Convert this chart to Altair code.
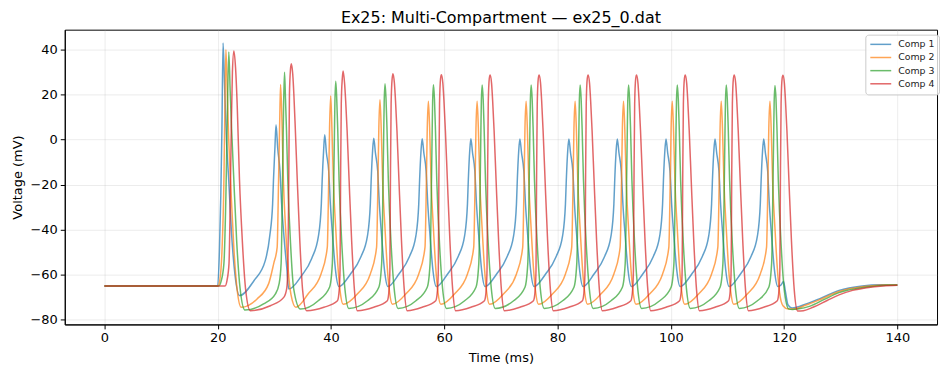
import altair as alt
import pandas as pd

# ---- data (time in ms, voltage in mV) ----
chart_title = "Ex25: Multi-Compartment — ex25_0.dat"
comp_names = ["Comp 1", "Comp 2", "Comp 3", "Comp 4"]
comp_colors = ["#1f77b4", "#ff7f0e", "#2ca02c", "#d62728"]

x_ticks = [0, 20, 40, 60, 80, 100, 120, 140]
y_ticks = [-80, -60, -40, -20, 0, 20, 40]

blue_t = [
    0, 20.0, 20.3, 20.55, 20.75, 20.95, 21.2, 21.55, 21.95, 22.45, 23.05, 23.85, 26.4, 28.4,
    29.2, 29.7, 29.85, 30.1, 30.3, 30.6, 31.0, 31.3, 31.7, 32.2, 32.55,
    34.8, 36.6, 37.8, 38.3, 38.45, 38.7, 38.9, 39.2, 39.6, 39.9, 40.3, 40.8, 41.4,
    43.45, 45.25, 46.45, 46.95, 47.1, 47.35, 47.55, 47.85, 48.25, 48.55, 48.95, 49.45, 50.05,
    52.0, 53.8, 55.0, 55.5, 55.65, 55.9, 56.1, 56.4, 56.8, 57.1, 57.5, 58.0, 58.6,
    60.6, 62.4, 63.6, 64.1, 64.25, 64.5, 64.7, 65.0, 65.4, 65.7, 66.1, 66.6, 67.2,
    69.25, 71.05, 72.25, 72.75, 72.9, 73.15, 73.35, 73.65, 74.05, 74.35, 74.75, 75.25, 75.85,
    77.9, 79.7, 80.9, 81.4, 81.55, 81.8, 82.0, 82.3, 82.7, 83.0, 83.4, 83.9, 84.5,
    86.45, 88.25, 89.45, 89.95, 90.1, 90.35, 90.55, 90.85, 91.25, 91.55, 91.95, 92.45, 93.05,
    95.05, 96.85, 98.05, 98.55, 98.7, 98.95, 99.15, 99.45, 99.85, 100.15, 100.55, 101.05, 101.65,
    103.7, 105.5, 106.7, 107.2, 107.35, 107.6, 107.8, 108.1, 108.5, 108.8, 109.2, 109.7, 110.3,
    112.3, 114.1, 115.3, 115.8, 115.95, 116.2, 116.4, 116.7, 117.1, 117.4, 117.8, 118.3, 118.9,
    119.5, 119.9, 120.2, 120.7, 121.4, 123.9, 126.6, 129.7, 133.8, 137.0, 140.0,
]
blue_v = [
    -65, -65, -50, -25, 5, 42.8, 25, 0, -18, -42, -60, -69.3, -62.7, -53.8,
    -42.7, -28.6, -18, -4, 6.5, -4, -14, -29, -43, -57, -66.4,
    -60.5, -52.8, -42.7, -28.6, -18, -5, 2.1, -6, -14, -29, -43, -58, -65.3,
    -59.7, -52.3, -42.7, -28.6, -18, -5, 0.6, -6, -14, -29, -43, -58, -65.3,
    -59.7, -52.3, -42.7, -28.6, -18, -5, 0.3, -6, -14, -29, -43, -58, -65.3,
    -59.7, -52.3, -42.7, -28.6, -18, -5, 0.3, -6, -14, -29, -43, -58, -65.3,
    -59.7, -52.3, -42.7, -28.6, -18, -5, 0.2, -6, -14, -29, -43, -58, -65.3,
    -59.7, -52.3, -42.7, -28.6, -18, -5, 0.2, -6, -14, -29, -43, -58, -65.3,
    -59.7, -52.3, -42.7, -28.6, -18, -5, 0.2, -6, -14, -29, -43, -58, -65.3,
    -59.7, -52.3, -42.7, -28.6, -18, -5, 0.2, -6, -14, -29, -43, -58, -65.3,
    -59.7, -52.3, -42.7, -28.6, -18, -5, 0.2, -6, -14, -29, -43, -58, -65.3,
    -59.7, -52.3, -42.7, -28.6, -18, -5, 0.2, -6, -14, -29, -43, -58, -65.3,
    -64.5, -63, -67, -73.5, -74.8, -73, -70.3, -67, -65, -64.5, -64.6,
]

orange_t = [
    0, 20.05, 20.4, 20.75, 21.1, 21.25, 21.45, 21.7, 21.95, 22.25, 22.85, 23.45, 24.15, 26.95, 29.0, 29.9,
    30.5, 30.75, 30.95, 31.1, 31.35, 31.6, 32.0, 32.45, 32.95, 33.8,
    35.95, 38.25, 39.35, 39.6, 39.75, 39.95, 40.17, 40.42, 40.85, 41.25, 41.65, 42.15,
    44.65, 46.95, 48.05, 48.3, 48.45, 48.65, 48.87, 49.12, 49.55, 49.95, 50.35, 50.85,
    53.2, 55.5, 56.6, 56.85, 57.0, 57.2, 57.42, 57.67, 58.1, 58.5, 58.9, 59.4,
    61.8, 64.1, 65.2, 65.45, 65.6, 65.8, 66.02, 66.27, 66.7, 67.1, 67.5, 68.0,
    70.45, 72.75, 73.85, 74.1, 74.25, 74.45, 74.67, 74.92, 75.35, 75.75, 76.15, 76.65,
    79.1, 81.4, 82.5, 82.75, 82.9, 83.1, 83.32, 83.57, 84.0, 84.4, 84.8, 85.3,
    87.65, 89.95, 91.05, 91.3, 91.45, 91.65, 91.87, 92.12, 92.55, 92.95, 93.35, 93.85,
    96.25, 98.55, 99.65, 99.9, 100.05, 100.25, 100.47, 100.72, 101.15, 101.55, 101.95, 102.45,
    104.9, 107.2, 108.3, 108.55, 108.7, 108.9, 109.12, 109.37, 109.8, 110.2, 110.6, 111.1,
    113.5, 115.8, 116.9, 117.15, 117.3, 117.5, 117.72, 117.97, 118.4, 118.8, 119.2,
    119.8, 120.75, 121.6, 123.9, 126.6, 129.7, 134.1, 137.5, 140.0,
]
orange_v = [
    -65, -65, -62, -50, -18, 10, 39.9, 20, 0, -18, -48, -67, -74.5, -70.8, -64, -55,
    -47.9, -18, 8, 24.4, 8, -18, -40, -58, -69, -74.5,
    -68.6, -59.7, -47.9, -18, 5, 19.3, 5, -18, -40, -57, -68, -73.2,
    -68.6, -59.7, -47.9, -18, 5, 17.6, 5, -18, -40, -57, -68, -73.2,
    -68.6, -59.7, -47.9, -18, 5, 17.0, 5, -18, -40, -57, -68, -73.2,
    -68.6, -59.7, -47.9, -18, 5, 17.0, 5, -18, -40, -57, -68, -73.2,
    -68.6, -59.7, -47.9, -18, 5, 17.0, 5, -18, -40, -57, -68, -73.2,
    -68.6, -59.7, -47.9, -18, 5, 17.0, 5, -18, -40, -57, -68, -73.2,
    -68.6, -59.7, -47.9, -18, 5, 17.0, 5, -18, -40, -57, -68, -73.2,
    -68.6, -59.7, -47.9, -18, 5, 17.0, 5, -18, -40, -57, -68, -73.2,
    -68.6, -59.7, -47.9, -18, 5, 17.0, 5, -18, -40, -57, -68, -73.2,
    -68.6, -59.7, -47.9, -18, 5, 17.0, 5, -18, -40, -57, -68,
    -73.8, -75.3, -75.3, -73.5, -70.8, -67.5, -65.3, -64.6, -64.6,
]

green_t = [
    0, 20.2, 20.6, 21.1, 21.45, 21.7, 21.96, 22.2, 22.45, 22.85, 23.35, 23.95, 24.8, 28.1, 30.2, 30.85,
    31.2, 31.45, 31.57, 31.65, 31.8, 31.97, 32.15, 32.38, 32.9, 33.4, 34.6,
    37.75, 39.75, 40.25, 40.5, 40.62, 40.7, 40.85, 41.02, 41.2, 41.43, 41.95, 42.45, 43.15,
    46.45, 48.45, 48.95, 49.2, 49.32, 49.4, 49.55, 49.72, 49.9, 50.13, 50.65, 51.15, 51.85,
    55.0, 57.0, 57.5, 57.75, 57.87, 57.95, 58.1, 58.27, 58.45, 58.68, 59.2, 59.7, 60.4,
    63.6, 65.6, 66.1, 66.35, 66.47, 66.55, 66.7, 66.87, 67.05, 67.28, 67.8, 68.3, 69.0,
    72.25, 74.25, 74.75, 75.0, 75.12, 75.2, 75.35, 75.52, 75.7, 75.93, 76.45, 76.95, 77.65,
    80.9, 82.9, 83.4, 83.65, 83.77, 83.85, 84.0, 84.17, 84.35, 84.58, 85.1, 85.6, 86.3,
    89.45, 91.45, 91.95, 92.2, 92.32, 92.4, 92.55, 92.72, 92.9, 93.13, 93.65, 94.15, 94.85,
    98.05, 100.05, 100.55, 100.8, 100.92, 101.0, 101.15, 101.32, 101.5, 101.73, 102.25, 102.75, 103.45,
    106.7, 108.7, 109.2, 109.45, 109.57, 109.65, 109.8, 109.97, 110.15, 110.38, 110.9, 111.4, 112.1,
    115.3, 117.3, 117.8, 118.05, 118.17, 118.25, 118.4, 118.57, 118.75, 118.98, 119.5, 120.0,
    120.8, 121.5, 122.4, 124.6, 127.1, 129.7, 134.6, 138.0, 140.0,
]
green_v = [
    -65, -65, -63, -55, -25, 10, 38.8, 22, 5, -18, -45, -66, -75.7, -73, -68.5, -64,
    -55, -18, 4, 17, 29.9, 18, 4, -18, -48, -66, -75.3,
    -71.6, -65.6, -55, -18, 4, 17, 25.9, 18, 4, -18, -48, -66, -75,
    -71.6, -65.6, -55, -18, 4, 17, 24.7, 18, 4, -18, -48, -66, -75,
    -71.6, -65.6, -55, -18, 4, 17, 24.3, 18, 4, -18, -48, -66, -75,
    -71.6, -65.6, -55, -18, 4, 17, 24.2, 18, 4, -18, -48, -66, -75,
    -71.6, -65.6, -55, -18, 4, 17, 24.2, 18, 4, -18, -48, -66, -75,
    -71.6, -65.6, -55, -18, 4, 17, 24.2, 18, 4, -18, -48, -66, -75,
    -71.6, -65.6, -55, -18, 4, 17, 24.2, 18, 4, -18, -48, -66, -75,
    -71.6, -65.6, -55, -18, 4, 17, 24.2, 18, 4, -18, -48, -66, -75,
    -71.6, -65.6, -55, -18, 4, 17, 24.2, 18, 4, -18, -48, -66, -75,
    -71.6, -65.6, -55, -18, 4, 17, 24.0, 18, 4, -18, -48, -66,
    -75.2, -75.5, -75.3, -74, -71, -68, -65.5, -64.7, -64.6,
]

red_t = [
    0, 21.3, 21.65, 22.0, 22.2, 22.4, 22.6, 22.86, 23.15, 23.45, 23.85, 24.35, 24.95, 25.75, 29.3, 31.7, 32.2, 32.4,
    32.55, 32.67, 32.85, 33.0, 33.25, 33.45, 33.7, 34.05, 34.5, 35.0, 35.7,
    38.75, 41.15, 41.45, 41.6, 41.7, 41.82, 42.0, 42.15, 42.4, 42.6, 42.85, 43.2, 43.65, 44.15, 44.65,
    47.55, 49.95, 50.25, 50.4, 50.5, 50.62, 50.8, 50.95, 51.2, 51.4, 51.65, 52.0, 52.45, 52.95, 53.45,
    56.1, 58.5, 58.8, 58.95, 59.05, 59.17, 59.35, 59.5, 59.75, 59.95, 60.2, 60.55, 61.0, 61.5, 62.0,
    64.7, 67.1, 67.4, 67.55, 67.65, 67.77, 67.95, 68.1, 68.35, 68.55, 68.8, 69.15, 69.6, 70.1, 70.6,
    73.35, 75.75, 76.05, 76.2, 76.3, 76.42, 76.6, 76.75, 77.0, 77.2, 77.45, 77.8, 78.25, 78.75, 79.25,
    82.0, 84.4, 84.7, 84.85, 84.95, 85.07, 85.25, 85.4, 85.65, 85.85, 86.1, 86.45, 86.9, 87.4, 87.9,
    90.55, 92.95, 93.25, 93.4, 93.5, 93.62, 93.8, 93.95, 94.2, 94.4, 94.65, 95.0, 95.45, 95.95, 96.45,
    99.15, 101.55, 101.85, 102.0, 102.1, 102.22, 102.4, 102.55, 102.8, 103.0, 103.25, 103.6, 104.05, 104.55, 105.05,
    107.8, 110.2, 110.5, 110.65, 110.75, 110.87, 111.05, 111.2, 111.45, 111.65, 111.9, 112.25, 112.7, 113.2, 113.7,
    116.4, 118.8, 119.1, 119.25, 119.35, 119.47, 119.65, 119.8, 120.05, 120.25, 120.5, 120.85, 121.3, 121.8, 122.4,
    123.4, 125.1, 127.6, 129.7, 132.1, 134.6, 137.5, 140.0,
]
red_v = [
    -65, -65, -62.5, -55, -30, 5, 30, 39.3, 32, 15, -18, -45, -67, -76, -73.8, -70, -66, -56,
    -18, 20, 31, 33.6, 29, 20, 5, -18, -45, -67, -76,
    -74.5, -71.6, -67, -58, -18, 16, 27, 30.4, 25, 17, 4, -18, -45, -67, -76,
    -74.5, -71.6, -67, -58, -18, 16, 27, 29.2, 25, 17, 4, -18, -45, -67, -76,
    -74.5, -71.6, -67, -58, -18, 16, 27, 28.7, 25, 17, 4, -18, -45, -67, -76,
    -74.5, -71.6, -67, -58, -18, 16, 27, 28.6, 25, 17, 4, -18, -45, -67, -76,
    -74.5, -71.6, -67, -58, -18, 16, 27, 28.6, 25, 17, 4, -18, -45, -67, -76,
    -74.5, -71.6, -67, -58, -18, 16, 27, 28.6, 25, 17, 4, -18, -45, -67, -76,
    -74.5, -71.6, -67, -58, -18, 16, 27, 28.6, 25, 17, 4, -18, -45, -67, -76,
    -74.5, -71.6, -67, -58, -18, 16, 27, 28.6, 25, 17, 4, -18, -45, -67, -76,
    -74.5, -71.6, -67, -58, -18, 16, 27, 28.6, 25, 17, 4, -18, -45, -67, -76,
    -74.5, -71.6, -67, -58, -18, 16, 27, 28.5, 25, 17, 4, -18, -45, -67, -76.2,
    -76, -74.5, -71.5, -69, -67, -65.8, -65, -64.7,
]

# ---- build the long table ----
series = [(comp_names[0], blue_t, blue_v), (comp_names[1], orange_t, orange_v),
          (comp_names[2], green_t, green_v), (comp_names[3], red_t, red_v)]
rows = []
for name, ts, vs in series:
    assert len(ts) == len(vs), (name, len(ts), len(vs))
    for t, v in zip(ts, vs):
        rows.append({"t": t, "v": v, "comp": name})
df = pd.DataFrame(rows)

FONT = "DejaVu Sans"
PLOT_W, PLOT_H = 876, 296

lines = alt.Chart(df).mark_line(
    strokeWidth=1.5, strokeOpacity=0.7, interpolate="monotone"
).encode(
    x=alt.X("t:Q",
            scale=alt.Scale(domain=[-7, 147], nice=False, zero=False),
            axis=alt.Axis(values=x_ticks, title="Time (ms)", format="d", titlePadding=7)),
    y=alt.Y("v:Q",
            scale=alt.Scale(domain=[-82.1, 48.75], nice=False, zero=False),
            axis=alt.Axis(values=y_ticks, title="Voltage (mV)", format="d", titlePadding=6)),
    color=alt.Color("comp:N",
                    scale=alt.Scale(domain=comp_names, range=comp_colors),
                    legend=alt.Legend(title=None, orient="none", legendX=804, legendY=5,
                                      symbolType="stroke", symbolSize=441,
                                      symbolStrokeWidth=1.5, symbolOpacity=0.7,
                                      labelFontSize=9.4, labelFont=FONT, labelColor="#222222",
                                      labelOffset=6, clipHeight=11.5, rowPadding=1.2, padding=4,
                                      fillColor="rgba(255,255,255,0.8)", strokeColor="#cccccc",
                                      cornerRadius=3)),
    order=alt.Order("t:Q"),
)

title_df = pd.DataFrame({"label": [chart_title]})
title = alt.Chart(title_df).mark_text(
    font=FONT, fontSize=16, color="black", align="center", baseline="alphabetic"
).encode(
    text="label:N",
    x=alt.value(PLOT_W / 2),
    y=alt.value(-7),
)

chart = alt.layer(lines, title).properties(
    width=PLOT_W, height=PLOT_H,
    padding={"left": 57, "top": 21, "right": 5, "bottom": 40},
    autosize=alt.AutoSizeParams(type="none"),
).configure_view(
    stroke="black", strokeWidth=1
).configure_axis(
    labelFont=FONT, labelFontSize=13, labelColor="black",
    titleFont=FONT, titleFontSize=13, titleFontWeight="normal", titleColor="black",
    domainColor="black", domainWidth=1, tickColor="black", tickSize=4.5, tickWidth=1,
    labelPadding=3,
    grid=True, gridColor="#b0b0b0", gridOpacity=0.3, gridWidth=0.8,
)

chart.save("out.html", embed_options={"renderer": "svg", "actions": False})
